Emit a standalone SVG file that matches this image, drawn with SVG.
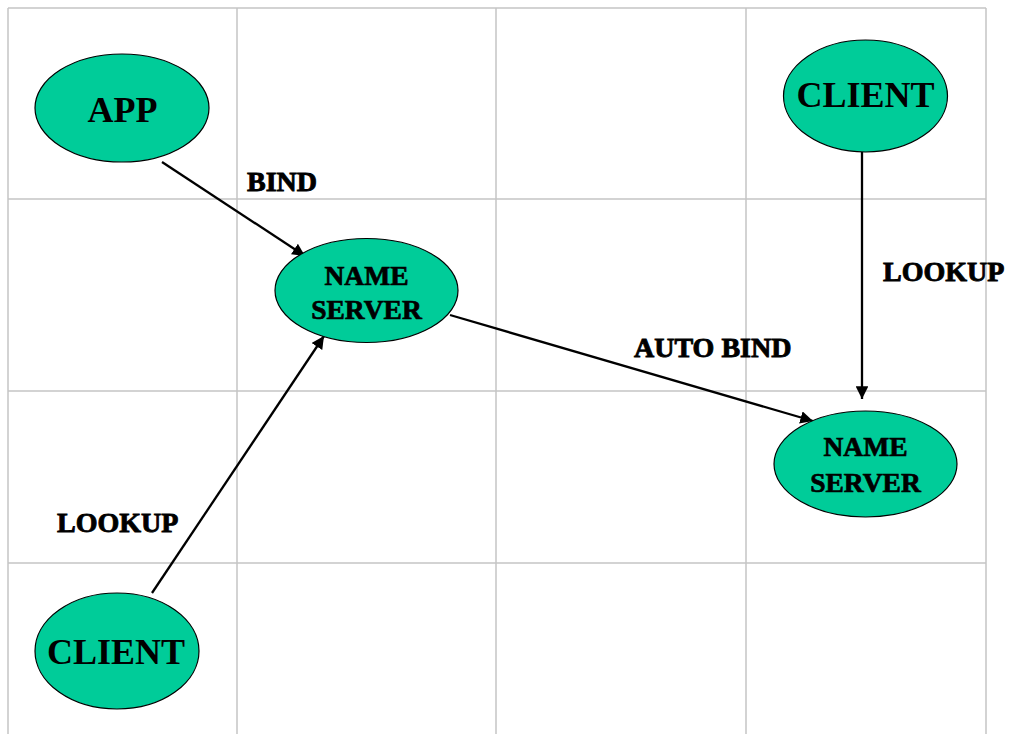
<svg xmlns="http://www.w3.org/2000/svg" width="1011" height="734" viewBox="0 0 1011 734">
<style>
.grid line{stroke:#c4c4c4;stroke-width:1.5}
.node ellipse{fill:#00cc99;stroke:#000;stroke-width:1.2}
.big{font-family:"Liberation Serif","Times New Roman",serif;font-size:36px;font-weight:bold;fill:#000;text-anchor:middle}
.ns{font-family:"Liberation Serif","Times New Roman",serif;font-size:27.5px;font-weight:bold;fill:#000;text-anchor:middle;stroke:#000;stroke-width:0.7}
.lbl{font-family:"Liberation Serif","Times New Roman",serif;font-size:28px;font-weight:bold;fill:#000;stroke:#000;stroke-width:0.9}
.edges line{stroke:#000;stroke-width:2.3;marker-end:url(#ah)}
</style>
<defs>
<marker id="ah" viewBox="0 0 10 10" refX="10" refY="5" markerWidth="5.5" markerHeight="5.5" orient="auto" markerUnits="strokeWidth">
<path d="M0,0 L10,5 L0,10 z" fill="#000"/>
</marker>
</defs>
<rect width="1011" height="734" fill="#fff"/>
<g class="grid">
<line x1="8" y1="8" x2="986" y2="8"/>
<line x1="8" y1="199" x2="986" y2="199"/>
<line x1="8" y1="391" x2="986" y2="391"/>
<line x1="8" y1="563" x2="986" y2="563"/>
<line x1="8" y1="8" x2="8" y2="734"/>
<line x1="237" y1="8" x2="237" y2="734"/>
<line x1="496" y1="8" x2="496" y2="734"/>
<line x1="746" y1="8" x2="746" y2="734"/>
<line x1="986" y1="8" x2="986" y2="734"/>
</g>
<g class="edges">
<line x1="162" y1="162" x2="305" y2="256"/>
<line x1="152" y1="593" x2="324" y2="336"/>
<line x1="450" y1="315" x2="813" y2="421"/>
<line x1="862" y1="152" x2="862" y2="399"/>
</g>
<g id="app" class="node">
<ellipse cx="122" cy="108" rx="87" ry="54"/>
<text class="big" x="122.5" y="122">APP</text>
</g>
<g id="ns1" class="node">
<ellipse cx="366.5" cy="290.5" rx="91.5" ry="52"/>
<text class="ns" x="366.5" y="285">NAME</text>
<text class="ns" x="366.5" y="319">SERVER</text>
</g>
<g id="ns2" class="node">
<ellipse cx="865.5" cy="464" rx="91.5" ry="53"/>
<text class="ns" x="865.5" y="456">NAME</text>
<text class="ns" x="865.5" y="492">SERVER</text>
</g>
<g id="client-top" class="node">
<ellipse cx="865.5" cy="96" rx="82" ry="56"/>
<text class="big" x="865.5" y="107">CLIENT</text>
</g>
<g id="client-bottom" class="node">
<ellipse cx="117" cy="651" rx="82" ry="58"/>
<text class="big" x="116" y="664">CLIENT</text>
</g>
<g id="labels">
<text class="lbl" x="247" y="191">BIND</text>
<text class="lbl" x="634" y="357">AUTO BIND</text>
<text class="lbl" x="883" y="281">LOOKUP</text>
<text class="lbl" x="57" y="532">LOOKUP</text>
</g>
</svg>
